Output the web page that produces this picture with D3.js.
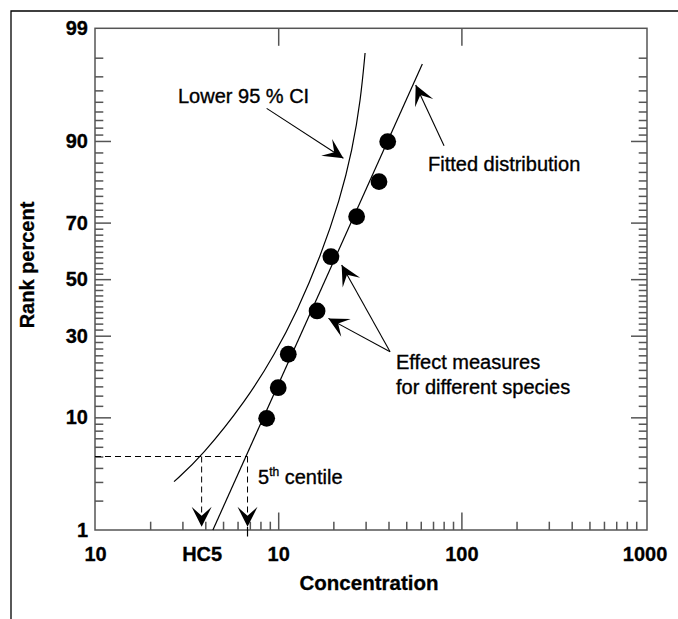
<!DOCTYPE html>
<html>
<head>
<meta charset="utf-8">
<script src="https://cdn.jsdelivr.net/npm/d3@7"></script>
<style>
  body { margin: 0; background: #fff; }
  svg text { font-family: "Liberation Sans", Arial, Helvetica, sans-serif; fill: #000; }
  .axis path, .axis line { stroke: #555; stroke-width: 1.5; }
  .lbl text { font-size: 20px; font-weight: bold; stroke: #000; stroke-width: 0.3px; }
  .title { font-weight: bold; stroke: #000; stroke-width: 0.3px; }
  .note { font-size: 20px; stroke: #000; stroke-width: 0.35px; }
</style>
</head>
<body>
<svg id="chart" width="678" height="619"></svg>
<script>
// effect concentrations for the species (x) and their rank percent (y)
var speciesConc = [8.65, 10.0, 11.35, 16.3, 19.4, 26.8, 35.5, 39.6];
var speciesRank = [9.84, 15.7, 24.3, 38.4, 58.25, 71.9, 81.7, 89.9];

// fitted log-normal distribution (straight on this paper), two ends
var fittedConc = [4.4, 61.2];
var fittedRank = [1, 97.7];

// lower 95 % confidence limit
var lowerConc = [2.70, 3.82, 6.71, 9.57, 12.7, 17.0, 21.7, 25.4, 28.2, 29.8];
var lowerRank = [3.02, 5.0, 13.1, 24.3, 38.4, 58.25, 76.85, 88.45, 95.2, 98.2];

var hc5Conc = 3.82;
var centileConc = 6.8;
var centileRank = 5;
var arrowEndRank = 1.08;

// annotation arrows: tail -> tip
var arrowFromConc = [8.65, 80.4, 40.8, 40.8];
var arrowFromRank = [94.34, 89.2, 25.05, 25.05];
var arrowToConc = [22.7, 56.3, 22.2, 18.8];
var arrowToRank = [86.88, 96.41, 55.2, 35.8];

var xTickValues = [1, 3.82, 10, 100, 1000];
var xTickLabels = ['10', 'HC5', '10', '100', '1000'];
var xMajor = [10, 100];
var xMinor = [2, 3, 4, 5, 6, 7, 8, 9, 20, 30, 40, 50, 60, 70, 80, 90, 200, 300, 400, 500, 600, 700, 800, 900];
var yTickValues = [1, 10, 30, 50, 70, 90, 99];
var yTickLabels = ['1', '10', '30', '50', '70', '90', '99'];
var yMajor = [10, 30, 50, 70, 90];
var yMinor = [2, 3, 4, 5, 6, 7, 8, 9, 12, 14, 16, 18, 20, 22, 24, 26, 28, 32, 34, 36, 38, 40, 42, 44, 46, 48,
  52, 54, 56, 58, 60, 62, 64, 66, 68, 72, 74, 76, 78, 80, 82, 84, 86, 88, 91, 92, 93, 94, 95, 96, 97, 98];

// inverse normal cdf (Acklam)
function probit(pct) {
  var p = pct / 100;
  var a = [-39.69683028665376, 220.9460984245205, -275.9285104469687, 138.3577518672690, -30.66479806614716, 2.506628277459239];
  var b = [-54.47609879822406, 161.5858368580409, -155.6989798598866, 66.80131188771972, -13.28068155288572];
  var c = [-0.007784894002430293, -0.3223964580411365, -2.400758277161838, -2.549732539343734, 4.374664141464968, 2.938163982698783];
  var d = [0.007784695709041462, 0.3224671290700398, 2.445134137142996, 3.754408661907416];
  var q, r;
  if (p < 0.02425) {
    q = Math.sqrt(-2 * Math.log(p));
    return (((((c[0] * q + c[1]) * q + c[2]) * q + c[3]) * q + c[4]) * q + c[5]) / ((((d[0] * q + d[1]) * q + d[2]) * q + d[3]) * q + 1);
  }
  if (p <= 1 - 0.02425) {
    q = p - 0.5; r = q * q;
    return (((((a[0] * r + a[1]) * r + a[2]) * r + a[3]) * r + a[4]) * r + a[5]) * q / (((((b[0] * r + b[1]) * r + b[2]) * r + b[3]) * r + b[4]) * r + 1);
  }
  q = Math.sqrt(-2 * Math.log(1 - p));
  return -(((((c[0] * q + c[1]) * q + c[2]) * q + c[3]) * q + c[4]) * q + c[5]) / ((((d[0] * q + d[1]) * q + d[2]) * q + d[3]) * q + 1);
}

// plot box edges (window.top is read-only, so no bare "top")
var boxL = 95, boxR = 647, boxT = 28.3, boxB = 530;

var x = d3.scaleLog().domain([1, 1000]).range([boxL, 644.6]);
var yz = d3.scaleLinear().domain([probit(1), probit(99)]).range([boxB, boxT]);
function y(pct) { return yz(probit(pct)); }

var svg = d3.select('#chart');

// outer frame
svg.append('path').attr('d', 'M11,619V11H678').attr('fill', 'none').attr('stroke', '#000').attr('stroke-width', 1.3);

// plot box
svg.append('rect').attr('x', boxL).attr('y', boxT).attr('width', boxR - boxL).attr('height', boxB - boxT)
  .attr('fill', 'none').attr('stroke', '#555').attr('stroke-width', 1.5);

function ticks(axis, tr) {
  var g = svg.append('g').attr('class', 'axis').attr('transform', tr).call(axis);
  g.select('.domain').remove();
  return g;
}
// bottom ticks
ticks(d3.axisBottom(x).tickValues(xMinor).tickSize(-8.3).tickFormat(''), 'translate(0,' + boxB + ')');
ticks(d3.axisBottom(x).tickValues(xMajor).tickSize(-17.5).tickFormat(''), 'translate(0,' + boxB + ')');
// top ticks
ticks(d3.axisTop(x).tickValues(xMajor).tickSize(-17.5).tickFormat(''), 'translate(0,' + boxT + ')');
// left / right ticks
var yMinorZ = yMinor.map(probit), yMajorZ = yMajor.map(probit);
ticks(d3.axisLeft(yz).tickValues(yMinorZ).tickSize(-8.3).tickFormat(''), 'translate(' + boxL + ',0)');
ticks(d3.axisLeft(yz).tickValues(yMajorZ).tickSize(-16).tickFormat(''), 'translate(' + boxL + ',0)');
ticks(d3.axisRight(yz).tickValues(yMinorZ).tickSize(-8.3).tickFormat(''), 'translate(' + boxR + ',0)');
ticks(d3.axisRight(yz).tickValues(yMajorZ).tickSize(-16).tickFormat(''), 'translate(' + boxR + ',0)');

// tick labels
var xl = ticks(d3.axisBottom(x).tickValues(xTickValues).tickSize(0).tickPadding(17)
  .tickFormat(function (d, i) { return xTickLabels[i]; }), 'translate(0,' + boxB + ')');
xl.attr('class', 'lbl').attr('font-size', null).attr('font-family', null);
var yl = ticks(d3.axisLeft(yz).tickValues(yTickValues.map(probit)).tickSize(0).tickPadding(7)
  .tickFormat(function (d, i) { return yTickLabels[i]; }), 'translate(' + boxL + ',0)');
yl.attr('class', 'lbl').attr('font-size', null).attr('font-family', null);

// axis titles
svg.append('text').attr('class', 'title').attr('x', 369).attr('y', 590).attr('text-anchor', 'middle')
  .style('font-size', '20.5px').text('Concentration');
svg.append('text').attr('class', 'title').attr('transform', 'translate(34,265) rotate(-90)').attr('text-anchor', 'middle')
  .style('font-size', '20px').text('Rank percent');

// curves
var fitted = fittedConc.map(function (c, i) { return [c, fittedRank[i]]; });
var lower = lowerConc.map(function (c, i) { return [c, lowerRank[i]]; });
var line = d3.line().x(function (d) { return x(d[0]); }).y(function (d) { return y(d[1]); });

svg.append('path').attr('d', line(fitted)).attr('fill', 'none').attr('stroke', '#000').attr('stroke-width', 1.2);
svg.append('path').attr('d', line.curve(d3.curveBasis)(lower))
  .attr('fill', 'none').attr('stroke', '#000').attr('stroke-width', 1.2);

// 5th centile guides
var dash = '6,4';
svg.append('line').attr('x1', boxL).attr('x2', x(centileConc)).attr('y1', y(centileRank)).attr('y2', y(centileRank))
  .attr('stroke', '#000').attr('stroke-dasharray', dash);
[hc5Conc, centileConc].forEach(function (c) {
  svg.append('line').attr('x1', x(c)).attr('x2', x(c)).attr('y1', y(centileRank)).attr('y2', y(arrowEndRank) - 12)
    .attr('stroke', '#000').attr('stroke-dasharray', dash);
});
svg.append('line').attr('x1', x(centileConc)).attr('x2', x(centileConc)).attr('y1', y(arrowEndRank)).attr('y2', boxB + 6.5)
  .attr('stroke', '#000').attr('stroke-width', 1.2);

// stealth arrow head at tip pointing along (dx,dy)
function head(tx, ty, dx, dy) {
  var len = Math.sqrt(dx * dx + dy * dy), ux = dx / len, uy = dy / len, px = -uy, py = ux;
  var L = 20, W = 10, N = 11;
  var pts = [[tx, ty], [tx - ux * L + px * W, ty - uy * L + py * W], [tx - ux * N, ty - uy * N], [tx - ux * L - px * W, ty - uy * L - py * W]];
  svg.append('path').attr('d', 'M' + pts.join('L') + 'Z').attr('fill', '#000');
}
[hc5Conc, centileConc].forEach(function (c) { head(x(c), y(arrowEndRank), 0, 1); });

arrowFromConc.forEach(function (c, i) {
  var x1 = x(c), y1 = y(arrowFromRank[i]), x2 = x(arrowToConc[i]), y2 = y(arrowToRank[i]);
  svg.append('line').attr('x1', x1).attr('y1', y1).attr('x2', x2).attr('y2', y2).attr('stroke', '#000').attr('stroke-width', 1.1);
  head(x2, y2, x2 - x1, y2 - y1);
});

// species points
svg.selectAll('circle.sp').data(speciesConc).enter().append('circle').attr('class', 'sp')
  .attr('cx', function (d) { return x(d); })
  .attr('cy', function (d, i) { return y(speciesRank[i]); })
  .attr('r', 8.4).attr('fill', '#000');

// annotations
svg.append('text').attr('class', 'note').attr('x', 178).attr('y', 103).text('Lower 95 % CI');
svg.append('text').attr('class', 'note').attr('x', 428).attr('y', 171).text('Fitted distribution');
svg.append('text').attr('class', 'note').attr('x', 396).attr('y', 369).text('Effect measures');
svg.append('text').attr('class', 'note').attr('x', 396).attr('y', 394).text('for different species');
var ct = svg.append('text').attr('class', 'note').attr('x', 258).attr('y', 484);
ct.append('tspan').text('5');
ct.append('tspan').attr('dy', -8).style('font-size', '12px').text('th');
ct.append('tspan').attr('dy', 8).text(' centile');
</script>
</body>
</html>
